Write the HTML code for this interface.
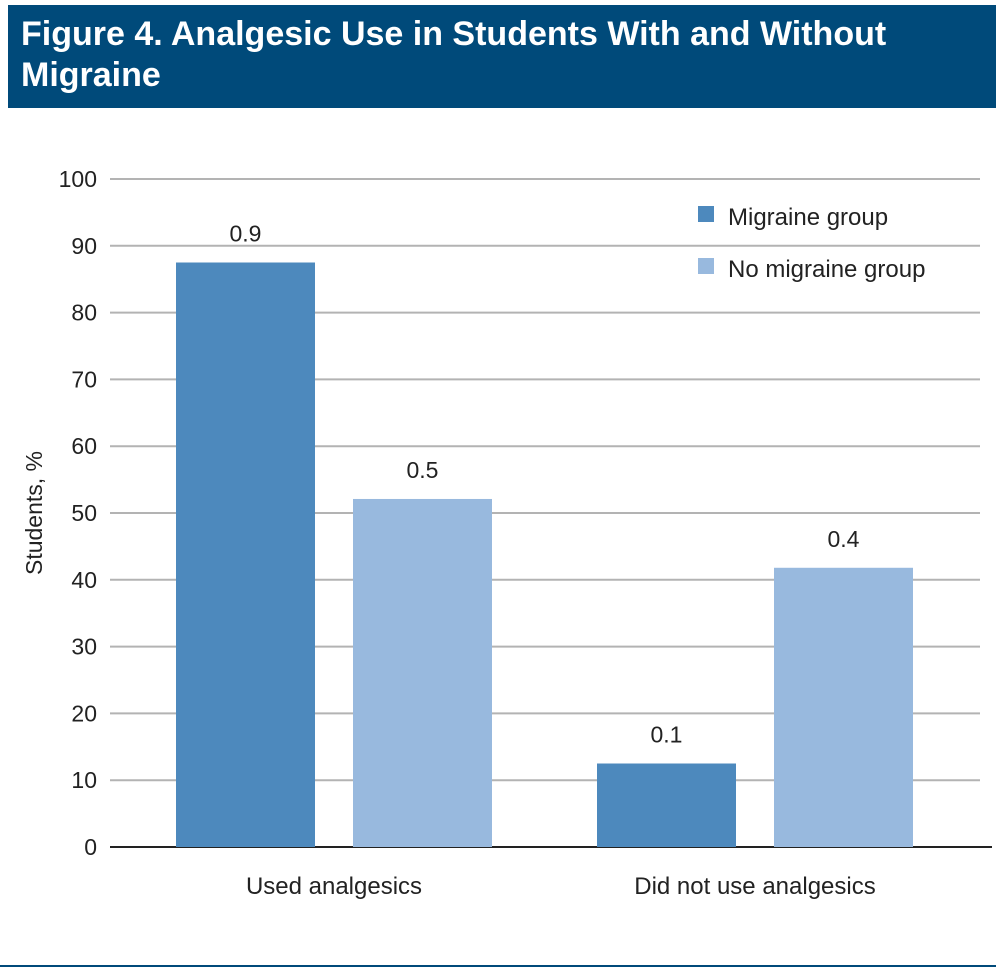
<!DOCTYPE html>
<html><head><meta charset="utf-8"><style>
body{margin:0;background:#fff;width:1004px;height:973px;overflow:hidden;font-family:"Liberation Sans",sans-serif}
</style></head><body>
<svg width="1004" height="973">
<rect x="8" y="5" width="988" height="103" fill="#004a7a"/>
<text x="21" y="45" fill="#fff" font-size="34" font-weight="bold">Figure 4. Analgesic Use in Students With and Without</text>
<text x="21" y="86" fill="#fff" font-size="34" font-weight="bold">Migraine</text>
<g id="grid"></g><g id="bars"></g>
<text transform="translate(42,513) rotate(-90)" text-anchor="middle" font-size="23" fill="#222">Students, %</text>
<rect x="698" y="206" width="16" height="16" fill="#4d89bd"/>
<text x="728" y="225" font-size="24" fill="#222">Migraine group</text>
<rect x="698" y="258" width="16" height="16" fill="#98b9de"/>
<text x="728" y="277" font-size="24" fill="#222">No migraine group</text>
<rect x="0" y="965" width="996" height="2" fill="#004a7a"/>
</svg>
<script>
const categories=["Used analgesics","Did not use analgesics"];
const migraine=[87.5,12.5];
const noMigraine=[52.1,41.8];
const migraineLabels=["0.9","0.1"];
const noMigraineLabels=["0.5","0.4"];
const ticks=[0,10,20,30,40,50,60,70,80,90,100];
const NS="http://www.w3.org/2000/svg";
const y=v=>847-v*6.68;
const groupX=[176,597];
function mk(tag,attrs,parent,txt){const e=document.createElementNS(NS,tag);for(const k in attrs)e.setAttribute(k,attrs[k]);if(txt!==undefined)e.textContent=txt;document.getElementById(parent).appendChild(e);return e;}
ticks.forEach(t=>{
 if(t>0){const l=mk('line',{x1:110,x2:980,y1:y(t),y2:y(t),stroke:'#b3b3b3','stroke-width':2},'grid');
 
 }
 const tx=mk('text',{x:97,y:y(t)+8,'text-anchor':'end','font-size':23,fill:'#222'},'grid',t);
 
 
});
const ax=mk('line',{x1:110,x2:992,y1:847,y2:847,stroke:'#222','stroke-width':2},'grid');


categories.forEach((c,i)=>{
 const x0=groupX[i];
 [[migraine,migraineLabels,'#4d89bd',0,'migraine'],[noMigraine,noMigraineLabels,'#98b9de',177,'no-migraine']].forEach(s=>{
  const v=s[0][i],bx=x0+s[3];
  const r=mk('rect',{x:bx,y:y(v),width:139,height:847-y(v),fill:s[2]},'bars');
  
  
  const t=mk('text',{x:bx+69.5,y:y(v)-21,'text-anchor':'middle','font-size':23,fill:'#222'},'bars',s[1][i]);
  
  
 });
 const cl=mk('text',{x:x0+158,y:894,'text-anchor':'middle','font-size':24,fill:'#222'},'bars',c);
 
 
});
</script>
</body></html>
